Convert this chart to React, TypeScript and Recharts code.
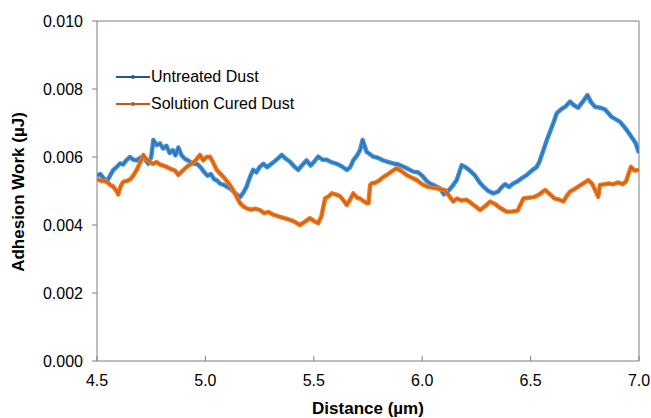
import React from 'react';
import { LineChart, Line, XAxis, YAxis, Legend, ReferenceLine } from 'recharts';

// Distance (µm) and adhesion work (µJ) readings for each sample
const untreatedDistance = [
    4.5, 4.515, 4.53, 4.545, 4.56, 4.575, 4.59, 4.606, 4.62, 4.635, 4.652, 4.668, 4.683, 4.7, 4.714,
    4.725, 4.737, 4.75, 4.76, 4.775, 4.79, 4.805, 4.82, 4.835, 4.85, 4.862, 4.875, 4.89, 4.905, 4.92,
    4.935, 4.95, 4.965, 4.98, 4.995, 5.01, 5.025, 5.04, 5.055, 5.067, 5.085, 5.1, 5.113, 5.13, 5.145,
    5.16, 5.175, 5.19, 5.205, 5.22, 5.235, 5.25, 5.267, 5.285, 5.3, 5.315, 5.335, 5.352, 5.37, 5.39,
    5.41, 5.428, 5.445, 5.467, 5.485, 5.5, 5.52, 5.54, 5.56, 5.58, 5.606, 5.63, 5.652, 5.668, 5.682,
    5.7, 5.713, 5.725, 5.744, 5.76, 5.774, 5.795, 5.82, 5.845, 5.866, 5.89, 5.912, 5.935, 5.959, 5.98,
    6.0, 6.02, 6.036, 6.06, 6.082, 6.1, 6.12, 6.14, 6.159, 6.182, 6.2, 6.22, 6.244, 6.265, 6.282,
    6.305, 6.328, 6.35, 6.365, 6.382, 6.4, 6.42, 6.436, 6.46, 6.482, 6.505, 6.528, 6.54, 6.551, 6.575,
    6.59, 6.605, 6.62, 6.64, 6.66, 6.682, 6.7, 6.72, 6.74, 6.762, 6.78, 6.797, 6.82, 6.843, 6.86,
    6.874, 6.895, 6.912, 6.93, 6.945, 6.959, 6.975, 6.985, 7.0,
];
const untreatedWork = [
    0.00545, 0.0055, 0.00538, 0.00527, 0.00545, 0.00562, 0.0057, 0.00581, 0.00578, 0.0059, 0.006,
    0.00592, 0.0059, 0.00598, 0.00601, 0.0059, 0.0058, 0.006, 0.0065, 0.00635, 0.0064, 0.00625,
    0.00633, 0.00612, 0.0062, 0.00605, 0.00628, 0.00605, 0.00595, 0.0059, 0.00583, 0.0058, 0.00578,
    0.00568, 0.00555, 0.00545, 0.0055, 0.00535, 0.0053, 0.00522, 0.00518, 0.00512, 0.00508, 0.00498,
    0.0049, 0.00482, 0.00495, 0.00513, 0.0054, 0.00562, 0.00555, 0.0057, 0.0058, 0.0057, 0.00578,
    0.00585, 0.00596, 0.00606, 0.00595, 0.00586, 0.00572, 0.00562, 0.00575, 0.0059, 0.00575, 0.00585,
    0.00601, 0.00592, 0.00592, 0.00585, 0.0058, 0.00572, 0.00562, 0.0057, 0.0059, 0.00605, 0.0062,
    0.0065, 0.00615, 0.00608, 0.00601, 0.00598, 0.0059, 0.00585, 0.00581, 0.00578, 0.00572, 0.00565,
    0.00557, 0.00555, 0.00545, 0.0053, 0.00522, 0.00515, 0.00508, 0.0049, 0.005, 0.00515, 0.00532,
    0.00576, 0.0057, 0.0056, 0.00545, 0.00525, 0.00513, 0.005, 0.00493, 0.00498, 0.0051, 0.0052,
    0.00512, 0.00522, 0.00527, 0.00538, 0.00547, 0.0056, 0.00571, 0.00585, 0.00605, 0.0065, 0.00675,
    0.007, 0.00728, 0.0074, 0.00748, 0.00763, 0.00752, 0.00745, 0.00762, 0.00782, 0.0076, 0.00748,
    0.00745, 0.0074, 0.00728, 0.00718, 0.0071, 0.00704, 0.0069, 0.00678, 0.00665, 0.0065, 0.0064,
    0.00612,
];

const curedDistance = [
    4.5, 4.52, 4.545, 4.56, 4.575, 4.59, 4.598, 4.61, 4.621, 4.64, 4.655, 4.67, 4.683, 4.7, 4.714,
    4.725, 4.737, 4.75, 4.76, 4.775, 4.79, 4.805, 4.82, 4.84, 4.86, 4.875, 4.895, 4.914, 4.935, 4.955,
    4.975, 4.99, 5.005, 5.021, 5.035, 5.052, 5.067, 5.085, 5.1, 5.113, 5.13, 5.145, 5.16, 5.175, 5.19,
    5.21, 5.23, 5.252, 5.27, 5.29, 5.315, 5.344, 5.365, 5.39, 5.41, 5.436, 5.46, 5.482, 5.5, 5.52,
    5.535, 5.552, 5.57, 5.583, 5.6, 5.62, 5.64, 5.652, 5.668, 5.682, 5.7, 5.713, 5.73, 5.744, 5.752,
    5.76, 5.767, 5.785, 5.8, 5.818, 5.836, 5.86, 5.882, 5.905, 5.928, 5.95, 5.975, 6.0, 6.021, 6.045,
    6.065, 6.085, 6.105, 6.125, 6.143, 6.16, 6.18, 6.205, 6.225, 6.245, 6.267, 6.29, 6.313, 6.335,
    6.36, 6.39, 6.415, 6.44, 6.467, 6.49, 6.515, 6.54, 6.567, 6.59, 6.61, 6.63, 6.651, 6.666, 6.682,
    6.7, 6.725, 6.75, 6.766, 6.785, 6.8, 6.812, 6.82, 6.84, 6.86, 6.88, 6.905, 6.925, 6.94, 6.963,
    6.98, 7.0,
];
const curedWork = [
    0.00535, 0.0053, 0.00528, 0.00518, 0.00513, 0.005, 0.0049, 0.00515, 0.00527, 0.0053, 0.00535,
    0.00548, 0.00562, 0.00585, 0.00606, 0.00595, 0.0059, 0.00582, 0.0058, 0.00585, 0.00578, 0.00575,
    0.00571, 0.00565, 0.0056, 0.00547, 0.0056, 0.00571, 0.0058, 0.0059, 0.00606, 0.0059, 0.006,
    0.00601, 0.00585, 0.00562, 0.00552, 0.0054, 0.00528, 0.00518, 0.005, 0.00482, 0.00464, 0.00455,
    0.00449, 0.00445, 0.00448, 0.00444, 0.00435, 0.00438, 0.0043, 0.00424, 0.0042, 0.00415, 0.0041,
    0.004, 0.0041, 0.0042, 0.00412, 0.00405, 0.00425, 0.00478, 0.00485, 0.00493, 0.0049, 0.00485,
    0.0047, 0.00459, 0.00475, 0.00493, 0.0048, 0.00478, 0.0047, 0.00464, 0.00464, 0.00518, 0.00522,
    0.00525, 0.0053, 0.0054, 0.00547, 0.00558, 0.00567, 0.00558, 0.00547, 0.0054, 0.00532, 0.0052,
    0.00513, 0.0051, 0.00508, 0.00505, 0.00503, 0.00485, 0.00469, 0.00478, 0.00472, 0.00474, 0.00465,
    0.00455, 0.00444, 0.00455, 0.00469, 0.00462, 0.0045, 0.00439, 0.0044, 0.00442, 0.00478, 0.0048,
    0.00482, 0.0049, 0.00503, 0.0049, 0.00478, 0.00475, 0.00469, 0.00485, 0.00498, 0.00505, 0.00515,
    0.00525, 0.00532, 0.0052, 0.005, 0.00483, 0.00518, 0.0052, 0.00522, 0.0052, 0.00525, 0.0052,
    0.00528, 0.00571, 0.0056, 0.00562,
];

const xTicks = [4.5, 5.0, 5.5, 6.0, 6.5, 7.0];
const yTicks = [0, 0.002, 0.004, 0.006, 0.008, 0.01];

const untreated = untreatedDistance.map((d, i) => ({ d, v: untreatedWork[i] }));
const cured = curedDistance.map((d, i) => ({ d, v: curedWork[i] }));

const FONT = 'Arial, "Liberation Sans", sans-serif';
const AXIS = '#7f7f7f';

const legendItems = [
    { name: 'Untreated Dust', color: '#1f5a96' },
    { name: 'Solution Cured Dust', color: '#c4561a' },
];

function ChartLegend() {
    return (
        <div style={{ fontFamily: FONT, fontSize: 16, color: '#000' }}>
            {legendItems.map((item) => (
                <div key={item.name} style={{ display: 'flex', alignItems: 'center', height: 27 }}>
                    <svg width={34} height={10} style={{ marginRight: 1 }}>
                        <line x1={0} y1={5} x2={34} y2={5} stroke={item.color} strokeWidth={2} />
                        <circle cx={17} cy={5} r={2} fill={item.color} />
                    </svg>
                    <span>{item.name}</span>
                </div>
            ))}
        </div>
    );
}

export default function App() {
    return (
        <div style={{ position: 'absolute', left: 0, top: 0, width: 651, height: 418, background: '#fff' }}>
            <LineChart width={651} height={418} margin={{ top: 21, right: 12, bottom: 27, left: 37 }}>
                <XAxis
                    dataKey="d"
                    type="number"
                    domain={[4.5, 7]}
                    ticks={xTicks}
                    allowDataOverflow
                    height={30}
                    stroke={AXIS}
                    tickSize={-5}
                    tickMargin={19}
                    tick={{ fill: '#000', fontSize: 16, fontFamily: FONT }}
                    tickFormatter={(v: number) => v.toFixed(1)}
                    label={{
                        content: () => (
                            <text x={368} y={414} textAnchor="middle" fontFamily={FONT} fontSize={17} fontWeight="bold" fill="#000">
                                Distance (µm)
                            </text>
                        ),
                    }}
                />
                <YAxis
                    type="number"
                    domain={[0, 0.01]}
                    ticks={yTicks}
                    width={60}
                    stroke={AXIS}
                    tickSize={5}
                    tickMargin={9}
                    tick={{ fill: '#000', fontSize: 16, fontFamily: FONT }}
                    tickFormatter={(v: number) => v.toFixed(3)}
                    label={{
                        content: () => (
                            <text
                                x={24}
                                y={192}
                                transform="rotate(-90 24 192)"
                                textAnchor="middle"
                                fontFamily={FONT}
                                fontSize={17}
                                fontWeight="bold"
                                fill="#000"
                            >
                                Adhesion Work (µJ)
                            </text>
                        ),
                    }}
                />
                <ReferenceLine y={0.01} stroke={AXIS} />
                <ReferenceLine x={7} stroke={AXIS} />
                <Legend
                    layout="vertical"
                    align="center"
                    verticalAlign="middle"
                    content={() => <ChartLegend />}
                    wrapperStyle={{ left: 116, top: 63, width: 'auto', height: 'auto' }}
                />
                {/* thick pale band with a darker core, like a dense run of small markers */}
                <Line data={untreated} dataKey="v" name="Untreated Dust" stroke="#4290d6" strokeWidth={4.5}
                    strokeLinejoin="round" dot={false} activeDot={false} legendType="none" isAnimationActive={false} />
                <Line data={untreated} dataKey="v" stroke="#2a73b8" strokeWidth={1.5}
                    dot={false} activeDot={false} legendType="none" isAnimationActive={false} />
                <Line data={cured} dataKey="v" name="Solution Cured Dust" stroke="#ef7a22" strokeWidth={4.5}
                    strokeLinejoin="round" dot={false} activeDot={false} legendType="none" isAnimationActive={false} />
                <Line data={cured} dataKey="v" stroke="#cf5f10" strokeWidth={1.5}
                    dot={false} activeDot={false} legendType="none" isAnimationActive={false} />
            </LineChart>
        </div>
    );
}
